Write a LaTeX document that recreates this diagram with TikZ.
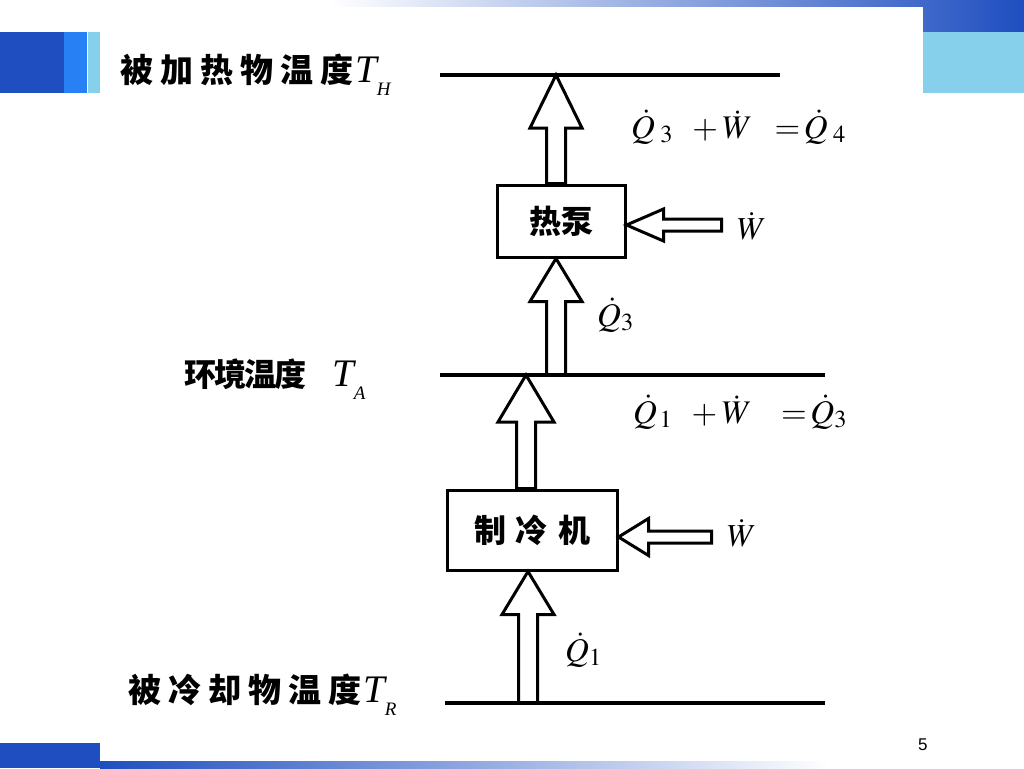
\documentclass[tikz,border=0pt]{standalone}
\usepackage{mathptmx}
\usepackage{fontspec}
\newfontfamily\cjk{Noto Sans CJK SC}
\newfontfamily\tms{Liberation Serif}
\newfontfamily\arl{Liberation Sans}
\usetikzlibrary{calc}
\definecolor{dblue}{RGB}{30,78,192}
\definecolor{bblue}{RGB}{40,128,245}
\definecolor{lblue}{RGB}{135,208,236}
\tikzset{
  box/.style={draw, line width=3pt, fill=white, inner sep=0pt},
  blk/.style={draw, line width=3pt, fill=white, line join=miter},
  level/.style={line width=3.5pt},
  lab/.style={inner sep=0pt, anchor=base west},
}
\newcommand\blkup[5]{\draw[blk] (#2) -- ($(#2)+(#4,#5)$) -- ($(#2)+(#3,#5)$) -- ($(#1)+(#3,0)$) -- ($(#1)+(-#3,0)$) -- ($(#2)+(-#3,#5)$) -- ($(#2)+(-#4,#5)$) -- cycle;}
\newcommand\blkleft[5]{\draw[blk] (#2) -- ($(#2)+(#5,-#4)$) -- ($(#2)+(#5,-#3)$) -- ($(#1)+(0,-#3)$) -- ($(#1)+(0,#3)$) -- ($(#2)+(#5,#3)$) -- ($(#2)+(#5,#4)$) -- cycle;}
\newcommand\cj[2]{{\cjk\bfseries\fontsize{#1}{#1}\selectfont #2}}
\newcommand\Tsub[2]{{\tms\itshape\fontsize{39}{39}\selectfont T}\raisebox{#2}{\tms\itshape\fontsize{19}{19}\selectfont #1}}
\begin{document}
\begin{tikzpicture}[x=1pt,y=-1pt]
\useasboundingbox (0,0) rectangle (1024,768);
% slide decoration
\shade[left color=white, right color=dblue] (330,0) rectangle (1024,7);
\shade[left color=dblue!85!white, right color=dblue] (923,0) rectangle (1024,32);
\fill[lblue] (923,32) rectangle (1024,93);
\fill[dblue] (0,32) rectangle (64,93);
\fill[bblue] (64,32) rectangle (87,93);
\fill[lblue] (88,32) rectangle (100,93);
\fill[dblue] (0,743) rectangle (100,768);
\shade[left color=dblue, right color=white] (100,761) rectangle (830,768);
% level lines
\coordinate (TH1) at (440,75); \coordinate (TH2) at (780,75);
\coordinate (TA1) at (440,375); \coordinate (TA2) at (825,375);
\coordinate (TR1) at (445,703); \coordinate (TR2) at (825,703);
% boxes
\node[box, minimum width=128pt, minimum height=72pt] (hp) at (561,221) {\cj{32}{热泵}};
\node[box, minimum width=170pt, minimum height=80pt] (ref) at (532,530) {\cj{32}{制\kern10pt冷\kern10pt机}};
% arrow anchor points
\coordinate (a1s) at ($(hp.north)+(-5,0)$); \coordinate (a1e) at (a1s |- TH1);
\coordinate (a2e) at ($(hp.south)+(-5,0)$); \coordinate (a2s) at (a2e |- TA1);
\coordinate (a3s) at ($(ref.north)+(-6,0)$); \coordinate (a3e) at (a3s |- TA1);
\coordinate (a4e) at ($(ref.south)+(-4,0)$); \coordinate (a4s) at (a4e |- TR1);
\coordinate (w1e) at ($(hp.east)+(0,4)$); \coordinate (w1s) at ($(w1e)+(95,0)$);
\coordinate (w2e) at ($(ref.east)+(0,7)$); \coordinate (w2s) at ($(w2e)+(93,0)$);
\blkup{a1s}{a1e}{9.5}{26}{53}
\blkup{a2s}{a2e}{9.5}{26}{43}
\blkup{a3s}{a3e}{9.5}{28}{47}
\blkup{a4s}{a4e}{9.5}{26}{43}
\blkleft{w1s}{w1e}{6}{16}{37}
\blkleft{w2s}{w2e}{6}{18.5}{30}
\draw[level] (TH1) -- (TH2);
\draw[level] (TA1) -- (TA2);
\draw[level] (TR1) -- (TR2);
% level labels
\node[lab] (lH) at (120,82) {\cj{33}{被\kern7pt加\kern7pt热\kern7pt物\kern7pt温\kern7pt度}\kern2pt\Tsub{H}{-13pt}};
\node[lab] (lA) at (184,386) {\cj{32}{环\kern-2pt境\kern-2pt温\kern-2pt度}\kern26pt\Tsub{A}{-13pt}};
\node[lab] (lR) at (128,702) {\cj{33}{被\kern7pt冷\kern7pt却\kern7pt物\kern7pt温\kern7pt度}\kern2pt\Tsub{R}{-13pt}};
% flow labels
\node[lab] (e1) at (631,138) {\fontsize{33}{33}\selectfont$\dot{Q}_{\;3}\;\;+\dot{W}\;\;=\!\dot{Q}_{\;4}$};
\node[lab] (e2) at (633,423) {\fontsize{33}{33}\selectfont$\dot{Q}_{\,1}\;\;+\dot{W}\;\;\;=\!\dot{Q}_{3}$};
\node[lab] (q3) at (597,326) {\fontsize{33}{33}\selectfont$\dot{Q}_{3}$};
\node[lab] (q1) at (565,661) {\fontsize{33}{33}\selectfont$\dot{Q}_{1}$};
\node[lab] (wh) at (737,239) {\fontsize{32}{32}\selectfont$\dot{W}$};
\node[lab] (wr) at (727,546) {\fontsize{32}{32}\selectfont$\dot{W}$};
\node[lab] (pg) at (918,750) {\arl\fontsize{17}{17}\selectfont 5};
\end{tikzpicture}
\end{document}
